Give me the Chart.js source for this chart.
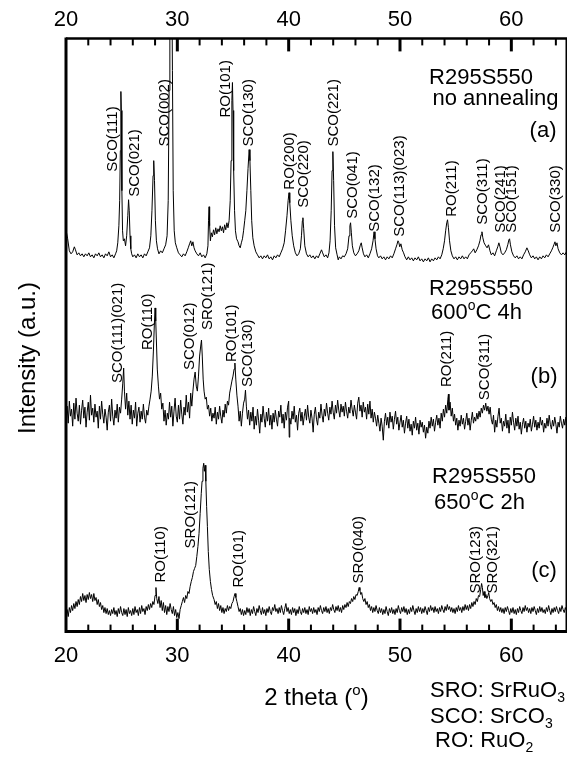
<!DOCTYPE html>
<html>
<head>
<meta charset="utf-8">
<script src="https://cdn.jsdelivr.net/npm/chart.js@4.4.1/dist/chart.umd.min.js"></script>
<style>
  html, body { margin: 0; padding: 0; background: #fff; }
  canvas { display: block; }
</style>
</head>
<body>
<canvas id="xrd" width="568" height="757"></canvas>
<script>
// XRD patterns, R295S550, three annealing states (stacked, offsets included)
// [2theta, intensity a.u.]
const traceA = [
  [20.05,398],[20.15,392],[20.3,380],[20.45,377],[20.6,379],[20.75,384],[20.85,381],[21.0,376],[21.15,378],[21.3,375],
  [21.45,377],[21.6,374],[21.75,377],[21.9,375],[22.05,378],[22.2,374],[22.35,376],[22.5,373],[22.65,377],[22.8,375],
  [22.95,378],[23.1,374],[23.25,376],[23.4,373],[23.55,377],[23.7,375],[23.85,379],[24.0,374],[24.15,376],[24.3,373],
  [24.45,377],[24.55,380],[24.65,388],[24.75,405],[24.82,430],[24.88,480],[24.93,539],[24.97,520],[25.02,440],[25.08,400],
  [25.15,390],[25.25,392],[25.35,385],[25.45,395],[25.55,415],[25.62,431],[25.68,420],[25.75,395],[25.82,382],[25.9,377],
  [26.0,374],[26.15,376],[26.3,373],[26.45,377],[26.6,374],[26.75,376],[26.9,373],[27.05,377],[27.2,375],[27.35,379],
  [27.5,383],[27.62,395],[27.72,420],[27.82,455],[27.88,470],[27.95,450],[28.03,410],[28.12,390],[28.22,382],[28.35,377],
  [28.5,380],[28.65,378],[28.8,382],[28.95,386],[29.08,395],[29.18,430],[29.26,540],[29.33,650],[29.4,650],[29.45,640],
  [29.5,660],[29.56,560],[29.63,440],[29.72,400],[29.82,388],[29.95,383],[30.1,378],[30.25,376],[30.4,374],[30.55,377],
  [30.7,375],[30.85,379],[30.98,383],[31.1,387],[31.2,390],[31.3,385],[31.4,389],[31.5,383],[31.6,380],[31.75,377],
  [31.9,375],[32.05,378],[32.2,374],[32.35,376],[32.5,373],[32.65,377],[32.75,385],[32.8,410],[32.85,424],[32.9,405],
  [32.97,390],[33.05,398],[33.15,394],[33.25,401],[33.35,396],[33.45,403],[33.55,397],[33.65,402],[33.75,399],[33.85,405],
  [33.95,400],[34.05,404],[34.15,398],[34.25,406],[34.35,401],[34.45,408],[34.55,403],[34.65,410],[34.75,430],[34.83,470],
  [34.9,530],[34.95,548],[35.0,520],[35.06,460],[35.14,420],[35.22,400],[35.32,392],[35.45,389],[35.55,385],[35.65,383],
  [35.75,388],[35.85,392],[35.95,400],[36.05,410],[36.15,420],[36.25,440],[36.35,462],[36.45,481],[36.52,470],[36.6,440],
  [36.68,410],[36.78,393],[36.9,385],[37.05,379],[37.2,376],[37.35,373],[37.5,375],[37.65,372],[37.8,375],[37.95,373],
  [38.1,376],[38.25,372],[38.4,374],[38.55,371],[38.7,375],[38.85,373],[39.0,376],[39.15,374],[39.3,378],[39.45,382],
  [39.6,388],[39.72,400],[39.85,415],[39.95,430],[40.03,438],[40.1,428],[40.2,410],[40.32,395],[40.45,385],[40.6,378],
  [40.75,375],[40.9,377],[41.05,382],[41.15,395],[41.23,410],[41.28,413],[41.35,402],[41.45,385],[41.6,377],[41.75,374],
  [41.9,376],[42.05,373],[42.2,375],[42.35,372],[42.5,375],[42.65,373],[42.8,377],[42.95,381],[43.05,378],[43.2,374],
  [43.35,376],[43.5,373],[43.62,378],[43.72,390],[43.82,420],[43.9,460],[43.97,479],[44.04,450],[44.12,405],[44.22,383],
  [44.35,376],[44.45,371],[44.55,374],[44.7,372],[44.85,375],[45.0,374],[45.15,377],[45.3,382],[45.42,395],[45.5,405],
  [45.56,408],[45.63,398],[45.72,385],[45.85,378],[46.0,375],[46.15,377],[46.3,380],[46.42,385],[46.52,388],[46.6,383],
  [46.72,377],[46.85,374],[47.0,376],[47.15,373],[47.3,377],[47.45,382],[47.58,390],[47.67,399],[47.75,392],[47.85,382],
  [47.98,375],[48.1,373],[48.25,375],[48.4,372],[48.55,374],[48.7,371],[48.85,374],[49.0,372],[49.15,375],[49.3,373],
  [49.45,377],[49.6,382],[49.72,386],[49.82,390],[49.9,388],[49.98,384],[50.08,387],[50.2,381],[50.32,378],[50.45,374],
  [50.6,371],[50.75,374],[50.9,371],[51.05,373],[51.2,370],[51.35,373],[51.5,371],[51.65,374],[51.8,370],[51.95,372],
  [52.1,369],[52.25,372],[52.4,370],[52.55,373],[52.7,369],[52.85,372],[53.0,370],[53.15,373],[53.3,371],[53.45,374],
  [53.6,372],[53.75,376],[53.88,382],[54.0,390],[54.1,400],[54.2,408],[54.27,411],[54.35,403],[54.45,390],[54.57,380],
  [54.7,375],[54.85,372],[55.0,374],[55.15,371],[55.3,374],[55.45,372],[55.6,375],[55.75,372],[55.9,374],[56.05,372],
  [56.2,376],[56.35,378],[56.5,380],[56.62,382],[56.75,378],[56.9,381],[57.05,385],[57.18,390],[57.28,396],[57.36,399],
  [57.44,393],[57.55,388],[57.7,385],[57.82,383],[57.95,386],[58.08,380],[58.2,376],[58.35,378],[58.5,375],[58.65,380],
  [58.78,384],[58.88,388],[58.98,384],[59.1,378],[59.25,376],[59.4,378],[59.55,381],[59.68,386],[59.78,391],[59.84,392],
  [59.92,386],[60.05,379],[60.2,375],[60.35,373],[60.5,375],[60.65,372],[60.8,374],[60.95,372],[61.1,376],[61.25,379],
  [61.4,383],[61.52,380],[61.65,376],[61.8,373],[61.95,375],[62.1,372],[62.25,374],[62.4,371],[62.55,374],[62.7,372],
  [62.85,375],[63.0,373],[63.15,376],[63.3,374],[63.45,377],[63.6,380],[63.72,383],[63.82,386],[63.92,389],[64.0,385],
  [64.1,388],[64.2,382],[64.35,378],[64.5,376],[64.65,378],[64.8,376],[64.95,379]
];

const traceB = [
  [20.0,214],[20.1,225],[20.2,208],[20.3,230],[20.4,215],[20.5,222],[20.6,205],[20.7,228],[20.8,212],[20.9,233],
  [21.0,218],[21.1,210],[21.2,226],[21.3,207],[21.4,221],[21.5,231],[21.6,213],[21.7,224],[21.8,204],[21.9,219],
  [22.0,229],[22.1,211],[22.2,236],[22.3,216],[22.4,223],[22.5,209],[22.6,227],[22.7,214],[22.8,220],[22.9,203],
  [23.0,225],[23.1,212],[23.2,230],[23.3,217],[23.4,208],[23.5,222],[23.6,214],[23.7,201],[23.8,219],[23.9,226],
  [24.0,210],[24.1,232],[24.2,215],[24.3,206],[24.4,221],[24.5,213],[24.6,227],[24.7,209],[24.8,224],[24.9,218],
  [25.0,232],[25.1,248],[25.18,263],[25.25,240],[25.35,222],[25.45,238],[25.55,216],[25.65,230],[25.75,212],[25.85,226],
  [25.95,207],[26.05,221],[26.15,213],[26.25,229],[26.35,205],[26.45,218],[26.55,224],[26.65,209],[26.75,220],[26.85,212],
  [26.95,227],[27.05,214],[27.15,208],[27.25,221],[27.35,216],[27.45,225],[27.55,232],[27.65,240],[27.75,255],[27.85,280],
  [27.93,305],[28.0,323],[28.06,310],[28.12,290],[28.2,262],[28.3,245],[28.4,232],[28.5,238],[28.6,222],[28.7,228],
  [28.8,210],[28.9,221],[29.0,206],[29.1,218],[29.2,212],[29.3,229],[29.4,214],[29.5,225],[29.6,205],[29.7,220],
  [29.8,233],[29.9,215],[30.0,209],[30.1,226],[30.2,212],[30.3,231],[30.4,217],[30.5,207],[30.6,224],[30.7,216],
  [30.8,236],[30.9,219],[31.0,229],[31.1,213],[31.2,238],[31.3,225],[31.4,240],[31.5,252],[31.6,259],[31.7,245],
  [31.8,240],[31.9,255],[32.0,275],[32.1,285],[32.17,291],[32.24,275],[32.32,252],[32.4,240],[32.5,232],[32.6,234],
  [32.7,222],[32.8,226],[32.9,215],[33.0,223],[33.1,210],[33.2,218],[33.3,213],[33.4,224],[33.5,207],[33.6,219],
  [33.7,212],[33.8,225],[33.9,215],[34.0,208],[34.1,221],[34.2,214],[34.3,227],[34.4,218],[34.5,230],[34.6,226],
  [34.7,238],[34.8,244],[34.9,250],[35.0,255],[35.1,262],[35.17,268],[35.25,252],[35.35,236],[35.45,225],[35.55,210],
  [35.65,220],[35.75,205],[35.85,218],[35.95,228],[36.05,232],[36.12,241],[36.2,225],[36.3,212],[36.4,221],[36.5,206],
  [36.6,219],[36.7,210],[36.8,224],[36.9,202],[37.0,215],[37.1,206],[37.2,222],[37.3,211],[37.4,198],[37.5,217],
  [37.6,209],[37.7,225],[37.8,213],[37.9,204],[38.0,219],[38.1,210],[38.2,223],[38.3,206],[38.4,216],[38.5,202],
  [38.6,218],[38.7,209],[38.8,221],[38.9,212],[39.0,205],[39.1,220],[39.2,214],[39.3,226],[39.4,208],[39.5,217],
  [39.6,203],[39.7,219],[39.8,211],[39.9,224],[40.0,230],[40.05,194],[40.1,213],[40.2,207],[40.3,220],[40.4,212],
  [40.5,225],[40.6,209],[40.7,216],[40.8,201],[40.9,218],[41.0,223],[41.1,210],[41.2,219],[41.3,206],[41.4,215],
  [41.5,222],[41.6,211],[41.7,226],[41.8,214],[41.9,208],[42.0,221],[42.1,213],[42.2,199],[42.3,217],[42.4,224],
  [42.5,212],[42.6,206],[42.7,219],[42.8,213],[42.9,227],[43.0,216],[43.1,209],[43.2,222],[43.3,215],[43.4,228],
  [43.5,218],[43.6,211],[43.7,224],[43.8,217],[43.9,230],[44.0,219],[44.1,212],[44.2,226],[44.3,218],[44.4,231],
  [44.5,221],[44.6,214],[44.7,227],[44.8,219],[44.9,225],[45.0,215],[45.1,229],[45.2,220],[45.3,213],[45.4,224],
  [45.5,218],[45.6,231],[45.7,222],[45.8,215],[45.9,226],[46.0,219],[46.1,212],[46.2,228],[46.3,234],[46.4,220],
  [46.5,226],[46.6,214],[46.7,229],[46.8,219],[46.9,224],[47.0,212],[47.1,227],[47.2,217],[47.3,230],[47.4,213],
  [47.5,222],[47.6,209],[47.7,219],[47.8,213],[47.9,205],[48.0,216],[48.1,208],[48.2,200],[48.3,213],[48.4,205],
  [48.5,191],[48.6,210],[48.7,218],[48.8,206],[48.9,214],[49.0,203],[49.1,219],[49.2,209],[49.3,215],[49.4,202],
  [49.5,212],[49.6,220],[49.7,207],[49.8,214],[49.9,201],[50.0,209],[50.1,216],[50.2,204],[50.3,211],[50.4,198],
  [50.5,208],[50.6,215],[50.7,203],[50.8,212],[50.9,200],[51.0,207],[51.1,196],[51.2,210],[51.3,203],[51.4,214],
  [51.5,201],[51.6,208],[51.7,197],[51.8,211],[51.9,204],[52.0,209],[52.1,199],[52.2,206],[52.3,193],[52.4,204],
  [52.5,198],[52.6,210],[52.7,203],[52.8,214],[52.9,205],[53.0,212],[53.1,200],[53.2,209],[53.3,216],[53.4,206],
  [53.5,213],[53.6,203],[53.7,218],[53.8,210],[53.9,222],[54.0,214],[54.1,226],[54.2,218],[54.3,232],[54.35,237],
  [54.4,221],[54.5,229],[54.6,215],[54.7,223],[54.8,210],[54.9,217],[55.0,206],[55.1,213],[55.2,201],[55.3,211],
  [55.4,205],[55.5,216],[55.6,207],[55.7,213],[55.8,202],[55.9,210],[56.0,218],[56.1,206],[56.2,213],[56.3,201],
  [56.4,211],[56.5,219],[56.6,208],[56.7,214],[56.8,210],[56.9,218],[57.0,212],[57.1,220],[57.2,214],[57.3,223],
  [57.4,218],[57.5,226],[57.6,221],[57.7,228],[57.8,220],[57.9,225],[58.0,217],[58.1,224],[58.2,212],[58.3,207],
  [58.4,216],[58.5,199],[58.6,211],[58.7,204],[58.8,215],[58.9,223],[59.0,208],[59.1,213],[59.2,200],[59.3,210],
  [59.4,205],[59.5,217],[59.6,203],[59.7,211],[59.8,198],[59.9,214],[60.0,206],[60.1,219],[60.2,209],[60.3,201],
  [60.4,213],[60.5,205],[60.6,215],[60.7,202],[60.8,209],[60.9,197],[61.0,207],[61.1,213],[61.2,203],[61.3,210],
  [61.4,199],[61.5,208],[61.6,204],[61.7,212],[61.8,200],[61.9,207],[62.0,215],[62.1,204],[62.2,211],[62.3,201],
  [62.4,209],[62.5,203],[62.6,214],[62.7,206],[62.8,211],[62.9,199],[63.0,208],[63.1,203],[63.2,213],[63.3,205],
  [63.4,216],[63.5,207],[63.6,202],[63.7,211],[63.8,205],[63.9,214],[64.0,207],[64.1,198],[64.2,209],[64.3,204],
  [64.4,215],[64.5,208],[64.6,203],[64.7,212],[64.8,206],[64.9,214],[65.0,209]
];

const traceC = [
  [20.0,17],[20.1,22],[20.2,15],[20.3,24],[20.4,19],[20.5,26],[20.6,21],[20.7,28],[20.8,23],[20.9,30],
  [21.0,25],[21.1,32],[21.2,27],[21.3,35],[21.4,30],[21.5,38],[21.6,31],[21.7,36],[21.8,29],[21.9,37],
  [22.0,32],[22.1,39],[22.2,33],[22.3,37],[22.4,30],[22.5,38],[22.6,31],[22.7,34],[22.8,27],[22.9,32],
  [23.0,25],[23.1,29],[23.2,22],[23.3,26],[23.4,19],[23.5,24],[23.6,18],[23.7,23],[23.8,17],[23.9,21],
  [24.0,16],[24.1,22],[24.2,18],[24.3,24],[24.4,17],[24.5,21],[24.6,15],[24.7,23],[24.8,18],[24.9,25],
  [25.0,19],[25.1,16],[25.2,23],[25.3,17],[25.4,22],[25.5,15],[25.6,24],[25.7,18],[25.8,21],[25.9,16],
  [26.0,23],[26.1,17],[26.2,25],[26.3,19],[26.4,22],[26.5,16],[26.6,24],[26.7,18],[26.8,26],[26.9,20],
  [27.0,23],[27.1,17],[27.2,25],[27.3,21],[27.4,27],[27.5,22],[27.6,28],[27.7,24],[27.8,30],[27.9,27],
  [28.0,36],[28.08,44],[28.15,33],[28.25,28],[28.35,35],[28.45,24],[28.55,31],[28.65,21],[28.75,29],[28.85,19],
  [28.95,26],[29.05,17],[29.15,25],[29.25,20],[29.35,28],[29.45,22],[29.55,18],[29.65,25],[29.75,16],[29.85,22],
  [29.95,14],[30.05,19],[30.15,13],[30.25,22],[30.35,26],[30.45,30],[30.55,34],[30.65,29],[30.75,36],[30.85,33],
  [30.95,40],[31.05,38],[31.15,45],[31.25,50],[31.35,54],[31.45,60],[31.55,63],[31.65,66],[31.75,75],[31.85,85],
  [31.95,98],[32.05,118],[32.15,138],[32.22,150],[32.3,163],[32.37,168],[32.43,160],[32.5,166],[32.56,150],[32.63,125],
  [32.7,105],[32.78,80],[32.87,62],[32.97,50],[33.07,42],[33.17,36],[33.3,32],[33.4,27],[33.5,30],[33.6,23],
  [33.7,28],[33.8,21],[33.9,26],[34.0,19],[34.1,24],[34.2,18],[34.3,23],[34.4,20],[34.5,26],[34.6,21],
  [34.7,25],[34.8,23],[34.9,28],[35.0,30],[35.1,35],[35.18,38],[35.26,34],[35.35,30],[35.45,25],[35.55,20],
  [35.65,23],[35.75,17],[35.85,22],[35.95,16],[36.05,21],[36.15,17],[36.25,24],[36.35,19],[36.45,23],[36.55,16],
  [36.65,22],[36.75,18],[36.85,25],[36.95,20],[37.05,16],[37.15,23],[37.25,19],[37.35,26],[37.45,21],[37.55,17],
  [37.65,24],[37.75,18],[37.85,22],[37.95,16],[38.05,23],[38.15,19],[38.25,25],[38.35,20],[38.45,17],[38.55,24],
  [38.65,21],[38.75,27],[38.85,20],[38.95,23],[39.05,18],[39.15,24],[39.25,19],[39.35,26],[39.45,21],[39.55,17],
  [39.65,23],[39.75,28],[39.85,20],[39.95,24],[40.05,18],[40.15,22],[40.25,17],[40.35,24],[40.45,19],[40.55,23],
  [40.65,16],[40.75,22],[40.85,18],[40.95,25],[41.05,20],[41.15,17],[41.25,23],[41.35,19],[41.45,24],[41.55,18],
  [41.65,22],[41.75,17],[41.85,25],[41.95,20],[42.05,23],[42.15,18],[42.25,24],[42.35,19],[42.45,22],[42.55,17],
  [42.65,24],[42.75,20],[42.85,26],[42.95,21],[43.05,18],[43.15,24],[43.25,20],[43.35,25],[43.45,19],[43.55,23],
  [43.65,18],[43.75,24],[43.85,21],[43.95,27],[44.05,22],[44.15,19],[44.25,25],[44.35,21],[44.45,26],[44.55,20],
  [44.65,24],[44.75,19],[44.85,26],[44.95,22],[45.05,27],[45.15,24],[45.25,29],[45.35,25],[45.45,30],[45.55,28],
  [45.65,33],[45.75,30],[45.85,35],[45.95,32],[46.05,37],[46.15,36],[46.25,40],[46.33,44],[46.4,41],[46.48,37],
  [46.56,39],[46.65,33],[46.75,30],[46.85,33],[46.95,27],[47.05,30],[47.15,24],[47.25,27],[47.35,21],[47.45,25],
  [47.55,19],[47.65,24],[47.75,20],[47.85,26],[47.95,21],[48.05,18],[48.15,24],[48.25,19],[48.35,23],[48.45,17],
  [48.55,22],[48.65,18],[48.75,25],[48.85,20],[48.95,16],[49.05,23],[49.15,19],[49.25,24],[49.35,18],[49.45,22],
  [49.55,17],[49.65,23],[49.75,19],[49.85,26],[49.95,21],[50.05,18],[50.15,24],[50.25,20],[50.35,25],[50.45,19],
  [50.55,23],[50.65,17],[50.75,22],[50.85,18],[50.95,24],[51.05,20],[51.15,26],[51.25,21],[51.35,17],[51.45,23],
  [51.55,19],[51.65,25],[51.75,20],[51.85,24],[51.95,18],[52.05,23],[52.15,19],[52.25,25],[52.35,21],[52.45,17],
  [52.55,24],[52.65,20],[52.75,26],[52.85,21],[52.95,24],[53.05,19],[53.15,25],[53.25,20],[53.35,23],[53.45,18],
  [53.55,24],[53.65,20],[53.75,26],[53.85,22],[53.95,19],[54.05,25],[54.15,21],[54.25,27],[54.35,22],[54.45,25],
  [54.55,20],[54.65,24],[54.75,19],[54.85,23],[54.95,18],[55.05,24],[55.15,20],[55.25,26],[55.35,21],[55.45,24],
  [55.55,19],[55.65,25],[55.75,21],[55.85,27],[55.95,22],[56.05,26],[56.15,21],[56.25,27],[56.35,23],[56.45,29],
  [56.55,25],[56.65,30],[56.75,27],[56.85,33],[56.95,30],[57.05,36],[57.15,35],[57.25,42],[57.33,48],[57.4,44],
  [57.47,36],[57.55,40],[57.63,34],[57.72,37],[57.8,33],[57.9,36],[57.97,39],[58.05,33],[58.15,30],[58.25,32],
  [58.35,27],[58.45,29],[58.55,24],[58.65,27],[58.75,21],[58.85,25],[58.95,20],[59.05,24],[59.15,19],[59.25,23],
  [59.35,18],[59.45,24],[59.55,20],[59.65,25],[59.75,21],[59.85,17],[59.95,23],[60.05,19],[60.15,24],[60.25,18],
  [60.35,22],[60.45,17],[60.55,23],[60.65,19],[60.75,25],[60.85,21],[60.95,18],[61.05,24],[61.15,20],[61.25,26],
  [61.35,21],[61.45,24],[61.55,19],[61.65,23],[61.75,18],[61.85,24],[61.95,20],[62.05,25],[62.15,21],[62.25,17],
  [62.35,23],[62.45,19],[62.55,25],[62.65,20],[62.75,24],[62.85,19],[62.95,22],[63.05,18],[63.15,24],[63.25,20],
  [63.35,26],[63.45,21],[63.55,17],[63.65,23],[63.75,19],[63.85,24],[63.95,20],[64.05,25],[64.15,21],[64.25,18],
  [64.35,24],[64.45,20],[64.55,26],[64.65,22],[64.75,19],[64.85,24],[64.95,21]
];

// peak labels: [text, 2theta, intensity where the text starts]
const peakLabelsA = [
  ['SCO(111)', 24.23, 459], ['SCO(021)', 26.2, 434], ['SCO(002)', 28.9, 484], ['RO(101)', 34.39, 513],
  ['SCO(130)', 36.46, 484], ['RO(200)', 40.14, 441], ['SCO(220)', 41.4, 423], ['SCO(221)', 44.06, 484],
  ['SCO(041)', 45.76, 412], ['SCO(132)', 47.7, 399], ['SCO(113)(023)', 49.95, 394], ['RO(211)', 54.62, 414],
  ['SCO(311)', 57.41, 406], ['SCO(241)', 59.03, 398], ['SCO(151)', 60.02, 398], ['SCO(330)', 64.04, 398]
];
const peakLabelsB = [
  ['SCO(111)(021)', 24.63, 248], ['RO(110)', 27.37, 281], ['SCO(012)', 31.15, 261], ['SRO(121)', 32.72, 301],
  ['RO(101)', 34.93, 269], ['SCO(130)', 36.32, 244], ['RO(211)', 54.17, 244], ['SCO(311)', 57.59, 231]
];
const peakLabelsC = [
  ['RO(110)', 28.5, 49], ['SRO(121)', 31.24, 83], ['RO(101)', 35.56, 44],
  ['SRO(040)', 46.26, 48], ['SRO(123)', 56.83, 38], ['SRO(321)', 58.35, 38]
];

// sample captions: [line, 2theta centre, intensity baseline]
const sampleA = [['R295S550', 57.28, 546], ['no annealing', 58.58, 526], ['(a)', 62.85, 494]];
const sampleB = [['R295S550', 57.28, 336], ['600|o|C 4h', 56.87, 312], ['(b)', 62.94, 248]];
const sampleC = [['R295S550', 57.55, 148], ['650|o|C 2h', 57.14, 122], ['(c)', 62.94, 54]];

const xTickLabels = [20, 30, 40, 50, 60];
const X_MIN = 20, X_MAX = 65, Y_MAX = 592;

const FONT = '"Liberation Sans", Arial, Helvetica, sans-serif';

function toPoints(arr) {
  return arr.map(p => ({ x: p[0], y: p[1] }));
}

// text with superscript / subscript pieces
function drawRich(ctx, pieces, x, y, size, align) {
  const parts = pieces.map(p => {
    const small = p.sup || p.sub;
    ctx.font = (small ? Math.round(size * 0.62) : size) + 'px ' + FONT;
    return { t: p.t, w: ctx.measureText(p.t).width, sup: p.sup, sub: p.sub };
  });
  const total = parts.reduce((s, p) => s + p.w, 0);
  let cx = align === 'center' ? x - total / 2 : (align === 'right' ? x - total : x);
  ctx.textAlign = 'left';
  ctx.textBaseline = 'alphabetic';
  parts.forEach(p => {
    const small = p.sup || p.sub;
    ctx.font = (small ? Math.round(size * 0.62) : size) + 'px ' + FONT;
    let dy = 0;
    if (p.sup) dy = -size * 0.42;
    if (p.sub) dy = size * 0.22;
    ctx.fillText(p.t, cx, y + dy);
    cx += p.w;
  });
}

function captionPieces(line) {
  const s = line.split('|');
  if (s.length === 1) return [{ t: line }];
  return [{ t: s[0] }, { t: s[1], sup: true }, { t: s[2] }];
}

const decorPlugin = {
  id: 'xrdDecor',
  afterDraw(chart) {
    const ctx = chart.ctx;
    const xs = chart.scales.x;
    const ys = chart.scales.y;
    const a = chart.chartArea;
    ctx.save();
    ctx.fillStyle = '#000';
    ctx.strokeStyle = '#000';

    // frame
    ctx.lineCap = 'butt';
    ctx.lineWidth = 3;
    ctx.beginPath(); ctx.moveTo(a.left, a.top - 1); ctx.lineTo(a.left, a.bottom + 1.5); ctx.stroke();
    ctx.beginPath(); ctx.moveTo(a.left, a.bottom); ctx.lineTo(a.right, a.bottom); ctx.stroke();
    ctx.lineWidth = 2.5;
    ctx.beginPath(); ctx.moveTo(a.left, a.top); ctx.lineTo(a.right, a.top); ctx.stroke();
    ctx.lineWidth = 1.5;
    ctx.beginPath(); ctx.moveTo(a.right - 0.75, a.top); ctx.lineTo(a.right - 0.75, a.bottom); ctx.stroke();

    // inward ticks, top and bottom, every 2 degrees
    for (let v = X_MIN + 2; v < X_MAX; v += 2) {
      const px = xs.getPixelForValue(v);
      const major = v % 10 === 0;
      const len = major ? 13 : 7;
      ctx.lineWidth = major ? 3 : 2;
      ctx.beginPath(); ctx.moveTo(px, a.top); ctx.lineTo(px, a.top + len); ctx.stroke();
      ctx.beginPath(); ctx.moveTo(px, a.bottom); ctx.lineTo(px, a.bottom - len); ctx.stroke();
    }

    // peak labels, rotated
    ctx.font = '15px ' + FONT;
    [peakLabelsA, peakLabelsB, peakLabelsC].forEach(list => {
      list.forEach(([txt, tx, ty]) => {
        ctx.save();
        ctx.translate(xs.getPixelForValue(tx), ys.getPixelForValue(ty));
        ctx.rotate(-Math.PI / 2);
        ctx.textAlign = 'left';
        ctx.textBaseline = 'middle';
        ctx.fillText(txt, 0, 0);
        ctx.restore();
      });
    });

    // sample captions
    [sampleA, sampleB, sampleC].forEach(list => {
      list.forEach(([txt, tx, ty]) => {
        drawRich(ctx, captionPieces(txt), xs.getPixelForValue(tx), ys.getPixelForValue(ty), 22, 'center');
      });
    });

    // axis titles
    ctx.save();
    ctx.translate(35, 358);
    ctx.rotate(-Math.PI / 2);
    ctx.font = '24px ' + FONT;
    ctx.textAlign = 'center';
    ctx.textBaseline = 'alphabetic';
    ctx.fillText('Intensity (a.u.)', 0, 0);
    ctx.restore();

    drawRich(ctx, [{ t: '2 theta (' }, { t: 'o', sup: true }, { t: ')' }], (a.left + a.right) / 2, 705, 24, 'center');

    // phase key
    drawRich(ctx, [{ t: 'SRO: SrRuO' }, { t: '3', sub: true }], 430, 697, 22, 'left');
    drawRich(ctx, [{ t: 'SCO: SrCO' }, { t: '3', sub: true }], 430, 723, 22, 'left');
    drawRich(ctx, [{ t: 'RO: RuO' }, { t: '2', sub: true }], 435, 747, 22, 'left');

    ctx.restore();
  }
};

// label gap comes from tickLength (grid hidden), so no extra side padding
function xAxis(position, gap) {
  return {
    type: 'linear',
    position: position,
    min: X_MIN,
    max: X_MAX,
    grid: { display: false, drawTicks: true, tickLength: gap },
    border: { display: false },
    ticks: {
      stepSize: 10,
      padding: 0,
      color: '#000',
      font: { size: 22, family: FONT },
      maxRotation: 0,
      autoSkip: false,
      callback: v => (xTickLabels.includes(v) ? String(v) : '')
    }
  };
}

function lineSet(label, arr) {
  return {
    label: label,
    data: toPoints(arr),
    borderColor: '#000',
    borderWidth: 1,
    pointRadius: 0,
    tension: 0,
    fill: false,
    xAxisID: 'x',
    yAxisID: 'y'
  };
}

new Chart(document.getElementById('xrd'), {
  type: 'line',
  data: {
    datasets: [
      lineSet('no annealing', traceA),
      lineSet('600C 4h', traceB),
      lineSet('650C 2h', traceC)
    ]
  },
  options: {
    responsive: false,
    animation: false,
    devicePixelRatio: 1,
    layout: { padding: { left: 66, right: 1, top: 7, bottom: 88 } },
    plugins: { legend: { display: false }, tooltip: { enabled: false } },
    scales: {
      x: xAxis('bottom', 11),
      x2: xAxis('top', 5),
      y: { type: 'linear', display: false, min: 0, max: Y_MAX }
    }
  },
  plugins: [decorPlugin]
});
</script>
</body>
</html>
